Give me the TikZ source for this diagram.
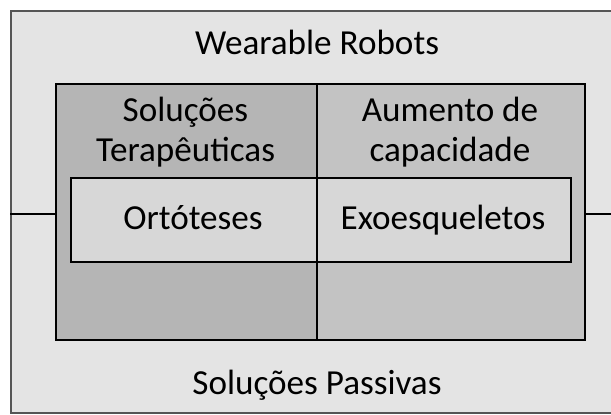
\documentclass[tikz,border=0pt]{standalone}
\usepackage{fontspec}
\setmainfont{Carlito}
\usepackage{xcolor}
\usetikzlibrary{positioning}

\definecolor{outerbg}{HTML}{E4E4E4}
\definecolor{leftbg}{HTML}{B5B5B5}
\definecolor{rightbg}{HTML}{C3C3C3}
\definecolor{innerbg}{HTML}{D7D7D7}
\definecolor{rim}{HTML}{555555}

\begin{document}
\begin{tikzpicture}[
  x=0.02cm, y=-0.02cm,
  frame/.style={draw=rim, line width=1.4pt, fill=outerbg, anchor=north west, inner sep=0pt},
  cell/.style={draw, line width=1.1pt, anchor=north west, inner sep=0pt},
  txt/.style={font=\fontsize{20}{22.5}\selectfont, align=center, inner sep=0pt, anchor=base},
  tie/.style={line width=1.1pt}
]
  \useasboundingbox (0,0) rectangle (611,414);
  \node[frame, minimum width=12.2cm, minimum height=8.04cm] (outer) at (10,10) {};
  \node[cell, fill=leftbg, minimum width=5.22cm, minimum height=5.12cm] (lcol) at (55,83) {};
  \node[cell, fill=rightbg, minimum width=5.36cm, minimum height=5.12cm] (rcol) at (316,83) {};
  \node[cell, fill=innerbg, minimum width=4.92cm, minimum height=1.68cm] (orto) at (70,177) {};
  \node[cell, fill=innerbg, minimum width=5.08cm, minimum height=1.68cm] (exo) at (316,177) {};

  \coordinate (mid) at (0,214);
  \draw[tie] (outer.west |- mid) -- (lcol.west |- mid);
  \draw[tie] (rcol.east |- mid) -- (outer.east |- mid);

  \node[txt] (wr) at (317,54) {Wearable Robots};
  \node[txt] (terap) at (185.5,161) {Soluções\\Terapêuticas};
  \node[txt] (aum) at (450,161) {Aumento de\\capacidade};
  \node[txt] (ortlbl) at (193,229) {Ortóteses};
  \node[txt] (exolbl) at (443,229) {Exoesqueletos};
  \node[txt] (pass) at (317,394) {Soluções Passivas};
\end{tikzpicture}
\end{document}
